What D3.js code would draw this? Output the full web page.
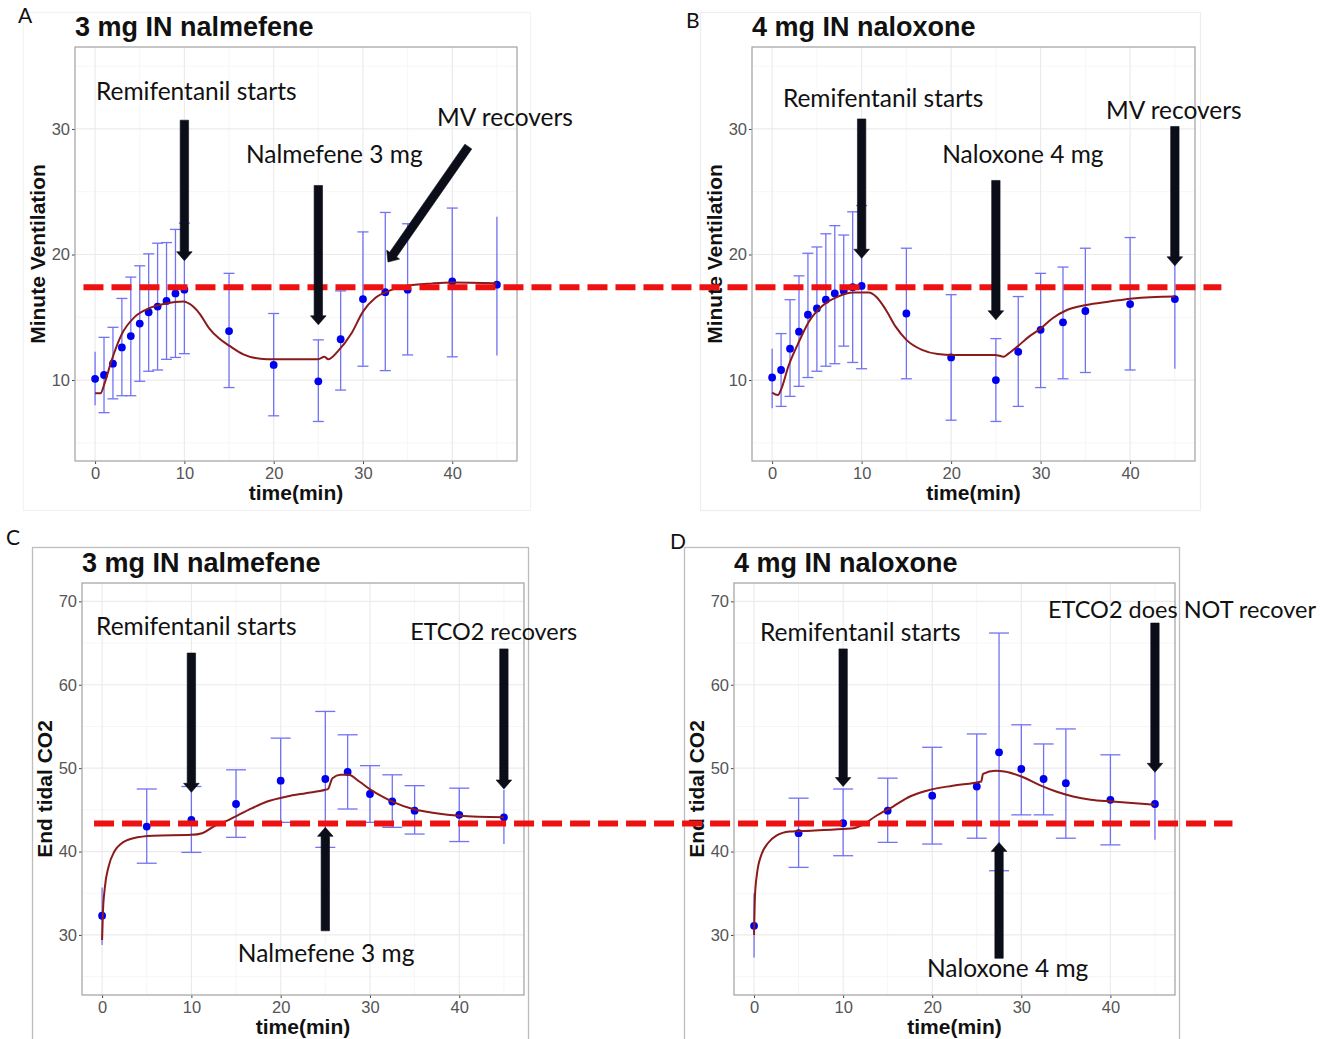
<!DOCTYPE html>
<html>
<head>
<meta charset="utf-8">
<script src="https://cdn.jsdelivr.net/npm/d3@7"></script>
<style>
  body { margin: 0; background: #fff; }
  svg { display: block; }
</style>
</head>
<body>
<svg id="fig" width="1335" height="1039"></svg>
<script>
// ---------- Minute ventilation (L/min), mean with error bars ----------
const mvTime = [0, 1, 2, 3, 4, 5, 6, 7, 8, 9, 10, 15, 20, 25, 27.5, 30, 32.5, 35, 40, 45];

const mvNalmefeneMean = [10.1, 10.4, 11.3, 12.6, 13.5, 14.5, 15.4, 15.85, 16.3, 16.9, 17.2, 13.9, 11.2, 9.9, 13.25, 16.45, 17.0, 17.2, 17.85, 17.6];
const mvNalmefeneLow  = [8.0, 7.4, 8.5, 8.75, 8.75, 9.9, 10.7, 10.8, 11.65, 11.8, 12.1, 9.4, 7.15, 6.7, 9.2, 11.1, 10.75, 12.0, 11.85, 11.95];
const mvNalmefeneHigh = [12.26, 13.4, 14.2, 16.5, 18.2, 19.1, 20.05, 20.9, 20.95, 22.0, 22.5, 18.5, 15.3, 13.2, 17.1, 21.8, 23.35, 22.45, 23.7, 23.0];

const mvNaloxoneMean = [10.2, 10.8, 12.5, 13.85, 15.2, 15.7, 16.4, 16.9, 17.1, 17.4, 17.5, 15.3, 11.8, 10.0, 12.25, 14.0, 14.6, 15.5, 16.05, 16.45];
const mvNaloxoneLow  = [7.75, 7.9, 8.7, 9.5, 10.2, 10.7, 11.1, 11.3, 12.7, 11.4, 10.9, 10.1, 6.8, 6.7, 7.9, 9.4, 10.1, 10.6, 10.8, 10.9];
const mvNaloxoneHigh = [12.5, 13.7, 16.4, 18.3, 20.1, 20.6, 21.65, 22.3, 21.55, 23.4, 23.9, 20.5, 16.8, 13.3, 16.65, 18.5, 19.0, 20.5, 21.35, 21.9];

// model fits for minute ventilation
const mvNalmefeneFitTime = [0, 0.6, 1.06, 1.8, 2.95, 4.47, 6, 7.9, 9.96, 10.5, 11.7, 12.8, 13.9, 15.1, 16.6, 18.5, 20, 24.9, 25.7, 26.1, 27.2, 28.7, 30, 31.4, 32.9, 34.8, 37.8, 40, 45];
const mvNalmefeneFit     = [8.94, 8.94, 9.73, 11.46, 13.6, 15.05, 15.7, 16.1, 16.25, 16.1, 15.3, 14.1, 13.3, 12.7, 12.05, 11.7, 11.65, 11.65, 11.86, 11.65, 12.3, 13.7, 15.45, 16.55, 17.1, 17.5, 17.7, 17.77, 17.7];

const mvNaloxoneFitTime = [0, 0.64, 1.0, 1.8, 2.9, 4.1, 5.6, 7.35, 9.06, 10.8, 11.6, 12.7, 13.8, 15.0, 16.75, 18.5, 20.2, 24.9, 25.9, 26.4, 27.4, 28.7, 30, 31.3, 33, 35.1, 37.7, 40.3, 45];
const mvNaloxoneFit     = [8.99, 8.8, 9.25, 11.06, 12.9, 14.65, 15.9, 16.65, 16.97, 16.97, 16.65, 15.6, 14.25, 13.2, 12.4, 12.07, 12.0, 12.0, 11.86, 12.1, 12.66, 13.46, 14.1, 14.9, 15.6, 15.98, 16.25, 16.5, 16.65];

// ---------- End tidal CO2 (mmHg), mean with error bars ----------
const etTime = [0, 5, 10, 15, 20, 25, 27.5, 30, 32.5, 35, 40, 45];

const etNalmefeneMean = [32.3, 43.0, 43.8, 45.7, 48.5, 48.7, 49.55, 46.9, 46.0, 44.9, 44.4, 44.1];
const etNalmefeneLow  = [28.8, 38.6, 39.9, 41.7, 43.5, 40.5, 45.1, 43.5, 42.9, 42.1, 41.2, 40.9];
const etNalmefeneHigh = [35.7, 47.5, 47.8, 49.8, 53.6, 56.8, 54.0, 50.3, 49.2, 47.9, 47.6, 47.4];

const etNaloxoneMean = [31.1, 42.2, 43.4, 44.9, 46.7, 47.8, 51.9, 49.9, 48.7, 48.2, 46.2, 45.7];
const etNaloxoneLow  = [27.3, 38.1, 39.5, 41.1, 40.9, 41.6, 37.7, 44.4, 44.4, 41.6, 40.8, 41.4];
const etNaloxoneHigh = [35.0, 46.4, 47.5, 48.8, 52.5, 54.1, 66.2, 55.2, 52.9, 54.7, 51.6, 49.6];

// model fits for end tidal CO2
const etNalmefeneFitTime = [0, 0.09, 0.3, 0.73, 1.37, 2.2, 3.5, 5.7, 10, 11.2, 12.5, 14.2, 16.4, 18.5, 20.7, 22.8, 25, 25.3, 25.8, 26.7, 27.6, 28.8, 30.1, 31.4, 32.7, 34.8, 37.4, 40, 45];
const etNalmefeneFit     = [29.4, 32.6, 35.6, 38.2, 40.0, 41.0, 41.6, 41.9, 42.0, 42.2, 43.0, 43.8, 45.0, 46.0, 46.6, 47.0, 47.4, 47.5, 48.8, 49.2, 49.2, 48.4, 47.4, 46.6, 45.9, 45.1, 44.6, 44.3, 44.1];

const etNaloxoneFitTime = [0, 0.1, 0.34, 0.82, 1.55, 2.5, 4, 6.4, 10, 11.2, 12.2, 13.6, 15.6, 17.5, 19.4, 22.3, 25.5, 25.7, 27.1, 28.1, 30, 32, 33.9, 35.8, 37.8, 40.2, 45];
const etNaloxoneFit     = [30.0, 34.6, 37.4, 39.6, 41.0, 41.9, 42.4, 42.5, 42.7, 42.8, 43.2, 44.2, 45.4, 46.6, 47.3, 47.9, 48.4, 49.3, 49.7, 49.6, 49.0, 48.0, 47.2, 46.6, 46.2, 46.0, 45.6];

// pre-drug baselines (dashed reference lines)
const mvBaseline = 17.4;
const etBaseline = 43.35;

// axis ticks
const timeTicks = [0, 10, 20, 30, 40];
const timeMinor = [5, 15, 25, 35, 45];
const mvTicks = [10, 20, 30];
const mvMinor = [5, 15, 25, 35];
const etTicks = [30, 40, 50, 60, 70];
const etMinor = [25, 35, 45, 55, 65];

// ---------- layout ----------
const svg = d3.select('#fig');
svg.append('rect').attr('width', 1335).attr('height', 1039).attr('fill', '#fff');

const titleFont = '"Liberation Sans", Arial, Helvetica, sans-serif';
const noteFont = 'Lato, "Open Sans", sans-serif';

const panels = [
  {
    letter: 'A', letterXY: [18, 23], frame: [23, 12, 530, 510], frameColor: '#f3f3f3',
    title: '3 mg IN nalmefene', box: [75, 47, 517, 461],
    yDomain: [3.55, 36.53], yTicks: mvTicks, yMinor: mvMinor, yLabel: 'Minute Ventilation',
    time: mvTime, mean: mvNalmefeneMean, low: mvNalmefeneLow, high: mvNalmefeneHigh,
    fitT: mvNalmefeneFitTime, fit: mvNalmefeneFit, cap: 5.5,
    notes: [
      { s: 'Remifentanil starts', t: 0.1, v: 32.3 },
      { s: 'Nalmefene 3 mg', t: 16.9, v: 27.3 },
      { s: 'MV recovers', t: 38.3, v: 30.2 }
    ],
    arrows: [
      { t1: 10, v1: 30.7, t2: 10, v2: 19.5 },
      { t1: 25, v1: 25.5, t2: 25, v2: 14.4 },
      { t1: 41.8, v1: 28.6, t2: 32.8, v2: 19.4 }
    ]
  },
  {
    letter: 'B', letterXY: [686, 28], frame: [700, 12, 1200, 510], frameColor: '#eeeeee',
    title: '4 mg IN naloxone', box: [752, 47, 1195, 461],
    yDomain: [3.55, 36.53], yTicks: mvTicks, yMinor: mvMinor, yLabel: 'Minute Ventilation',
    time: mvTime, mean: mvNaloxoneMean, low: mvNaloxoneLow, high: mvNaloxoneHigh,
    fitT: mvNaloxoneFitTime, fit: mvNaloxoneFit, cap: 5.5,
    notes: [
      { s: 'Remifentanil starts', t: 1.2, v: 31.75 },
      { s: 'Naloxone 4 mg', t: 19.0, v: 27.3 },
      { s: 'MV recovers', t: 37.3, v: 30.8 }
    ],
    arrows: [
      { t1: 10, v1: 30.8, t2: 10, v2: 19.7 },
      { t1: 25, v1: 25.9, t2: 25, v2: 14.8 },
      { t1: 45, v1: 30.2, t2: 45, v2: 19.1 }
    ]
  },
  {
    letter: 'C', letterXY: [6, 545], frame: [32, 547, 528, 1060], frameColor: '#bdbdbd',
    title: '3 mg IN nalmefene', box: [82, 583, 524, 995],
    yDomain: [22.8, 72.2], yTicks: etTicks, yMinor: etMinor, yLabel: 'End tidal CO2',
    time: etTime, mean: etNalmefeneMean, low: etNalmefeneLow, high: etNalmefeneHigh,
    fitT: etNalmefeneFitTime, fit: etNalmefeneFit, cap: 10,
    notes: [
      { s: 'Remifentanil starts', t: -0.67, v: 66.0 },
      { s: 'ETCO2 recovers', t: 34.5, v: 65.4, size: 23.4 },
      { s: 'Nalmefene 3 mg', t: 15.2, v: 26.8 }
    ],
    arrows: [
      { t1: 10, v1: 63.8, t2: 10, v2: 47.1 },
      { t1: 45, v1: 64.3, t2: 45, v2: 47.5 },
      { t1: 25, v1: 30.5, t2: 25, v2: 42.9 }
    ]
  },
  {
    letter: 'D', letterXY: [670, 549], frame: [684, 547, 1179, 1060], frameColor: '#bdbdbd',
    title: '4 mg IN naloxone', box: [734, 583, 1175, 995],
    yDomain: [22.8, 72.2], yTicks: etTicks, yMinor: etMinor, yLabel: 'End tidal CO2',
    time: etTime, mean: etNaloxoneMean, low: etNaloxoneLow, high: etNaloxoneHigh,
    fitT: etNaloxoneFitTime, fit: etNaloxoneFit, cap: 10,
    notes: [
      { s: 'Remifentanil starts', t: 0.67, v: 65.3 },
      { s: 'ETCO2 does NOT recover', t: 33.0, v: 68.0, size: 23.5 },
      { s: 'Naloxone 4 mg', t: 19.4, v: 25.0 }
    ],
    arrows: [
      { t1: 10, v1: 64.3, t2: 10, v2: 47.8 },
      { t1: 45, v1: 67.4, t2: 45, v2: 49.5 },
      { t1: 27.5, v1: 27.2, t2: 27.5, v2: 41.1 }
    ]
  }
];

// block arrow polygon from tail (x1,y1) to tip (x2,y2)
function arrowPath(x1, y1, x2, y2) {
  const shaft = 4.2, head = 7.8, headLen = 9;
  const dx = x2 - x1, dy = y2 - y1, L = Math.hypot(dx, dy);
  const ux = dx / L, uy = dy / L, nx = -uy, ny = ux;
  const bx = x2 - ux * headLen, by = y2 - uy * headLen;
  const p = [
    [x1 + nx * shaft, y1 + ny * shaft],
    [bx + nx * shaft, by + ny * shaft],
    [bx + nx * head, by + ny * head],
    [x2, y2],
    [bx - nx * head, by - ny * head],
    [bx - nx * shaft, by - ny * shaft],
    [x1 - nx * shaft, y1 - ny * shaft]
  ];
  return 'M' + p.map(d => d.join(',')).join('L') + 'Z';
}

panels.forEach(p => {
  const [x0, y0, x1, y1] = p.box;
  const x = d3.scaleLinear().domain([-2.25, 47.25]).range([x0, x1]);
  const y = d3.scaleLinear().domain(p.yDomain).range([y1, y0]);
  p.x = x; p.y = y;
  const g = svg.append('g');

  // outer figure frame
  const [fx0, fy0, fx1, fy1] = p.frame;
  g.append('rect').attr('x', fx0 + 0.5).attr('y', fy0 + 0.5)
    .attr('width', fx1 - fx0).attr('height', fy1 - fy0)
    .attr('fill', 'none').attr('stroke', p.frameColor).attr('stroke-width', 1.3);

  // panel letter
  g.append('text').attr('x', p.letterXY[0]).attr('y', p.letterXY[1])
    .attr('font-family', noteFont).attr('font-size', 21).attr('fill', '#111')
    .text(p.letter);

  // grid
  const grid = g.append('g');
  grid.selectAll('.vmin').data(timeMinor).join('line')
    .attr('x1', d => x(d)).attr('x2', d => x(d)).attr('y1', y0).attr('y2', y1)
    .attr('stroke', '#f4f4f4').attr('stroke-width', 0.8);
  grid.selectAll('.hmin').data(p.yMinor).join('line')
    .attr('y1', d => y(d)).attr('y2', d => y(d)).attr('x1', x0).attr('x2', x1)
    .attr('stroke', '#f4f4f4').attr('stroke-width', 0.8);
  grid.selectAll('.vmaj').data(timeTicks).join('line')
    .attr('x1', d => x(d)).attr('x2', d => x(d)).attr('y1', y0).attr('y2', y1)
    .attr('stroke', '#ebebeb').attr('stroke-width', 1.2);
  grid.selectAll('.hmaj').data(p.yTicks).join('line')
    .attr('y1', d => y(d)).attr('y2', d => y(d)).attr('x1', x0).attr('x2', x1)
    .attr('stroke', '#ebebeb').attr('stroke-width', 1.2);

  // axes
  const xa = g.append('g').attr('transform', `translate(0,${y1})`)
    .call(d3.axisBottom(x).tickValues(timeTicks).tickSize(3).tickPadding(3));
  const ya = g.append('g').attr('transform', `translate(${x0},0)`)
    .call(d3.axisLeft(y).tickValues(p.yTicks).tickSize(3).tickPadding(2));
  [xa, ya].forEach(a => {
    a.select('.domain').remove();
    a.selectAll('line').attr('stroke', '#444');
    a.selectAll('text').attr('font-family', titleFont).attr('font-size', 16.5).attr('fill', '#555');
  });

  // panel border
  g.append('rect').attr('x', x0).attr('y', y0).attr('width', x1 - x0).attr('height', y1 - y0)
    .attr('fill', 'none').attr('stroke', '#a8a8a8').attr('stroke-width', 1.3);

  // titles
  g.append('text').attr('x', x0).attr('y', y0 - 11)
    .attr('font-family', titleFont).attr('font-weight', 'bold').attr('font-size', 27)
    .attr('fill', '#111').text(p.title);
  g.append('text').attr('x', (x0 + x1) / 2).attr('y', y1 + 39).attr('text-anchor', 'middle')
    .attr('font-family', titleFont).attr('font-weight', 'bold').attr('font-size', 21)
    .attr('fill', '#111').text('time(min)');
  g.append('text').attr('transform', `translate(${x0 - 30},${(y0 + y1) / 2}) rotate(-90)`)
    .attr('text-anchor', 'middle')
    .attr('font-family', titleFont).attr('font-weight', 'bold').attr('font-size', 21)
    .attr('fill', '#111').text(p.yLabel);

  // error bars (end points drawn without caps)
  const rows = p.time.map((t, i) => ({ t, m: p.mean[i], lo: p.low[i], hi: p.high[i], edge: i === 0 || i === p.time.length - 1 }));
  const eb = g.append('g').attr('stroke', '#6464f5').attr('stroke-width', 1.3).attr('opacity', 0.9);
  eb.selectAll('.bar').data(rows).join('line')
    .attr('x1', d => x(d.t)).attr('x2', d => x(d.t)).attr('y1', d => y(d.lo)).attr('y2', d => y(d.hi));
  const capped = rows.filter(d => !d.edge);
  eb.selectAll('.capHi').data(capped).join('line')
    .attr('x1', d => x(d.t) - p.cap).attr('x2', d => x(d.t) + p.cap).attr('y1', d => y(d.hi)).attr('y2', d => y(d.hi));
  eb.selectAll('.capLo').data(capped).join('line')
    .attr('x1', d => x(d.t) - p.cap).attr('x2', d => x(d.t) + p.cap).attr('y1', d => y(d.lo)).attr('y2', d => y(d.lo));

  // means
  g.append('g').selectAll('circle').data(rows).join('circle')
    .attr('cx', d => x(d.t)).attr('cy', d => y(d.m)).attr('r', 3.9).attr('fill', '#0000f0');

  // model fit
  const fitRows = p.fitT.map((t, i) => [t, p.fit[i]]);
  g.append('path').datum(fitRows)
    .attr('d', d3.line().x(d => x(d[0])).y(d => y(d[1])).curve(d3.curveMonotoneX))
    .attr('fill', 'none').attr('stroke', '#8b1a1a').attr('stroke-width', 2);
});

// dashed baselines drawn across the paired panels
const [pA, pB, pC, pD] = panels;
const dash = svg.append('g').attr('stroke', '#ee1111').attr('stroke-width', 6).attr('stroke-dasharray', '20,8').attr('fill', 'none');
dash.append('line')
  .attr('x1', pA.x(-1.3)).attr('x2', pB.x(50.2))
  .attr('y1', pA.y(mvBaseline)).attr('y2', pA.y(mvBaseline));
dash.append('line')
  .attr('x1', pC.x(-0.9)).attr('x2', pD.x(53.7))
  .attr('y1', pC.y(etBaseline)).attr('y2', pC.y(etBaseline));

// annotations: event labels and block arrows
panels.forEach(p => {
  const g = svg.append('g');
  g.selectAll('text').data(p.notes).join('text')
    .attr('x', d => p.x(d.t)).attr('y', d => p.y(d.v))
    .attr('font-family', noteFont).attr('font-size', d => d.size || 24.5).attr('fill', '#111')
    .text(d => d.s);
  g.selectAll('path').data(p.arrows).join('path')
    .attr('d', d => arrowPath(p.x(d.t1), p.y(d.v1), p.x(d.t2), p.y(d.v2)))
    .attr('fill', '#0b0d18').attr('stroke', '#0b0d18').attr('stroke-width', 0.6);
});
</script>
</body>
</html>
